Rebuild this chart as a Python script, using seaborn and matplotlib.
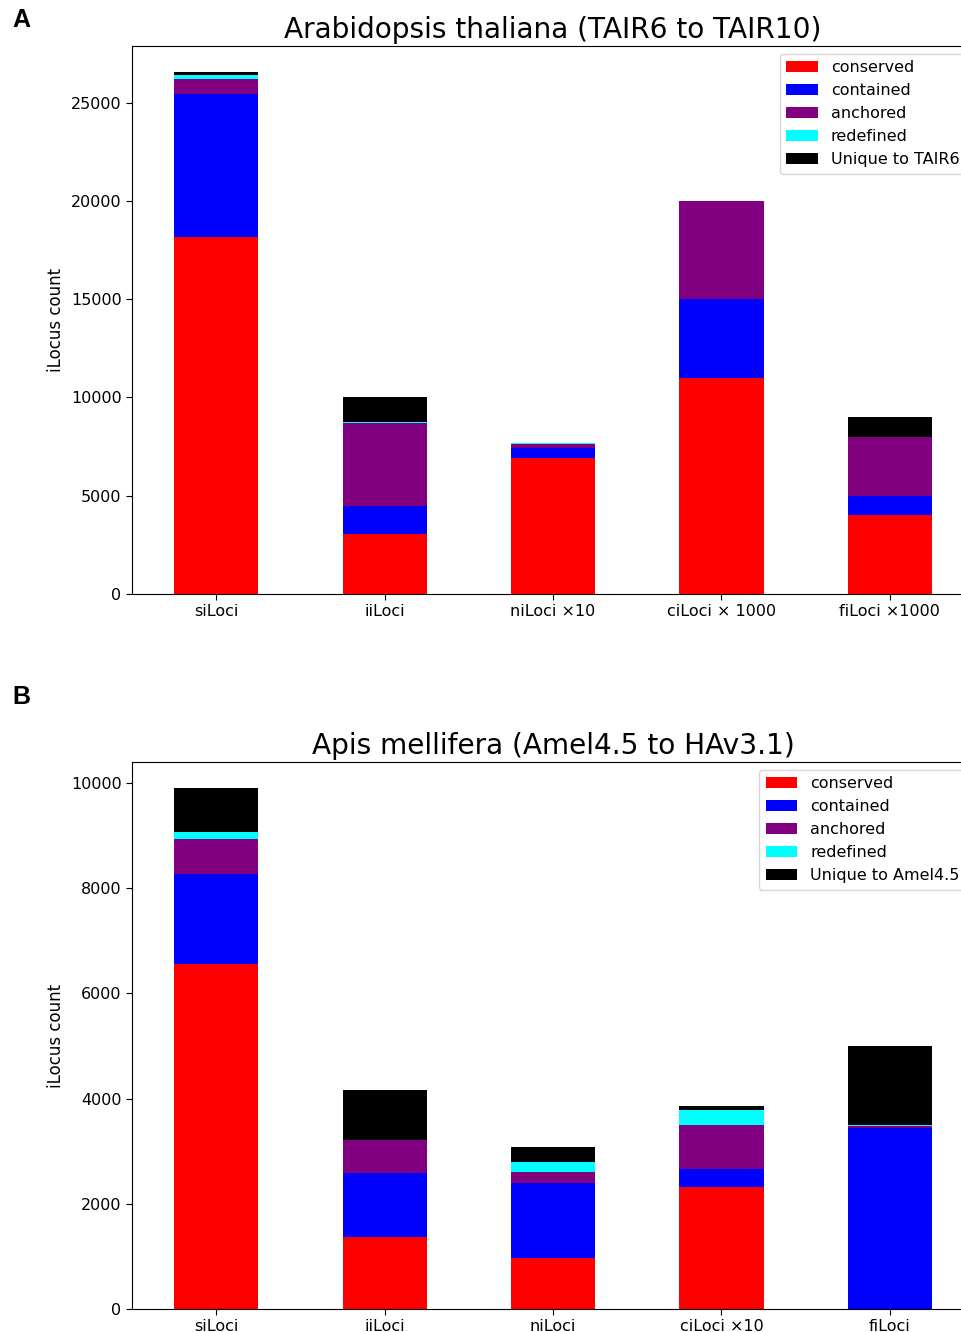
import matplotlib
matplotlib.use("Agg")
import matplotlib.pyplot as plt
import seaborn as sns
import numpy as np
import pandas as pd

# iLocus categories per panel
categories_a = ["siLoci", "iiLoci", "niLoci ×10", "ciLoci × 1000", "fiLoci ×1000"]
categories_b = ["siLoci", "iiLoci", "niLoci", "ciLoci ×10", "fiLoci"]

# Arabidopsis thaliana, TAIR6 -> TAIR10
a_conserved = [18180, 3070, 6940, 11000, 4000]
a_contained = [7260, 1410, 490, 4000, 1000]
a_anchored = [780, 4230, 200, 5000, 3000]
a_redefined = [190, 50, 60, 0, 0]
a_unique = [150, 1240, 0, 0, 1000]

# Apis mellifera, Amel4.5 -> HAv3.1
b_conserved = [6560, 1375, 970, 2325, 0]
b_contained = [1700, 1200, 1430, 330, 3440]
b_anchored = [670, 635, 210, 835, 30]
b_redefined = [130, 0, 180, 300, 20]
b_unique = [840, 955, 285, 70, 1510]

classes = ["conserved", "contained", "anchored", "redefined"]
colors = ["red", "blue", "purple", "cyan", "black"]

sns.set_style("white", {"text.color": "black", "axes.labelcolor": "black",
                        "xtick.color": "black", "ytick.color": "black",
                        "axes.edgecolor": "black"})
plt.rcParams["font.family"] = ["DejaVu Sans"]

fig = plt.figure(figsize=(9.61, 13.32), dpi=100)
left = 132 / 961
width = (974 - 132) / 961
ax_a = fig.add_axes([left, 1 - 594 / 1332, width, (594 - 46) / 1332])
ax_b = fig.add_axes([left, 1 - 1309 / 1332, width, (1309 - 762) / 1332])


def stacked(ax, cats, layers, labels, title):
    df = pd.DataFrame(dict(zip(labels, layers)), index=cats)
    cum = df.cumsum(axis=1)
    # draw the tallest cumulative layer first so lower segments sit on top
    for lab, col in reversed(list(zip(labels, colors))):
        sns.barplot(x=cats, y=cum[lab].values, color=col, width=0.5,
                    saturation=1, ax=ax, label=lab, linewidth=0)
    ax.set_xlim(-0.5, len(cats) - 0.5)
    ax.set_ylim(0, cum.iloc[:, -1].max() * 1.05)
    ax.set_title(title, fontsize=20.2, color="black")
    ax.set_ylabel("iLocus count", fontsize=12, color="black")
    ax.tick_params(axis="both", labelsize=11.5, length=4, width=0.8,
                   bottom=True, left=True, colors="black")
    for s in ax.spines.values():
        s.set_visible(True)
        s.set_color("black")
        s.set_linewidth(0.8)
    handles, labs = ax.get_legend_handles_labels()
    order = [labs.index(l) for l in labels]
    leg = ax.legend([handles[i] for i in order], labels, loc="upper right",
                    fontsize=11.5, frameon=True)
    for t in leg.get_texts():
        t.set_color("black")


stacked(ax_a, categories_a,
        [a_conserved, a_contained, a_anchored, a_redefined, a_unique],
        classes + ["Unique to TAIR6"],
        "Arabidopsis thaliana (TAIR6 to TAIR10)")
stacked(ax_b, categories_b,
        [b_conserved, b_contained, b_anchored, b_redefined, b_unique],
        classes + ["Unique to Amel4.5"],
        "Apis mellifera (Amel4.5 to HAv3.1)")

fig.text(12 / 961, 1 - 20 / 1332, "A", fontsize=18, fontweight="bold",
         family="Liberation Sans", va="center", ha="left", color="black")
fig.text(12 / 961, 1 - 697 / 1332, "B", fontsize=18, fontweight="bold",
         family="Liberation Sans", va="center", ha="left", color="black")

fig.savefig("out.png", dpi=100)
